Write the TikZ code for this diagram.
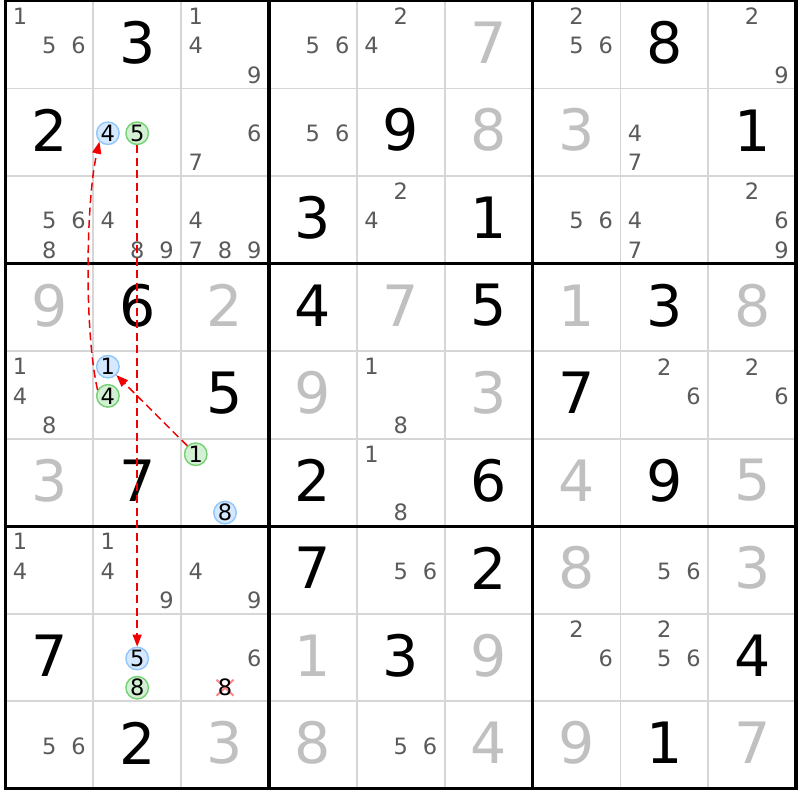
\documentclass[tikz,border=0pt]{standalone}
\usepackage{fontspec}
\setmainfont{DejaVu Sans}
\usetikzlibrary{arrows.meta}
\definecolor{thincol}{RGB}{214,214,214}
\definecolor{candc}{RGB}{90,90,90}
\definecolor{solvedc}{RGB}{192,192,192}
\definecolor{bfill}{RGB}{212,232,255}
\definecolor{bdraw}{RGB}{145,198,250}
\definecolor{gfill}{RGB}{212,240,212}
\definecolor{gdraw}{RGB}{115,208,115}
\definecolor{xcol}{RGB}{255,135,135}
\definecolor{linkred}{RGB}{240,0,0}
\def\GX{5.4}\def\GY{0.9}\def\GW{87.85}\def\GH{87.55}
\newcommand\cnode[5]{% style, name, row, col, digit
  \node[#1] (#2) at ({\GX+(#4-1)*\GW+(mod(#5-1,3)+0.5)*\GW/3},{\GY+(#3-1)*\GH+(floor((#5-1)/3)+0.5)*\GH/3+1}) {#5};}
\begin{document}
\begin{tikzpicture}[x=1pt,y=-1pt,
  given/.style={inner sep=0pt, font=\fontsize{57}{60}\selectfont, text=black},
  solved/.style={given, text=solvedc},
  cand/.style={inner sep=0pt, font=\fontsize{22.5}{24}\selectfont, text=candc},
  bluec/.style={circle, inner sep=0pt, minimum size=22.5pt, draw=bdraw, fill=bfill, line width=1.4pt, font=\fontsize{22.5}{24}\selectfont, text=black},
  greenc/.style={bluec, draw=gdraw, fill=gfill},
  plainc/.style={inner sep=0pt, font=\fontsize{22.5}{24}\selectfont, text=black},
  link/.style={draw=linkred, line width=1.5pt, dash pattern=on 8pt off 4.5pt, -{Triangle[length=12pt,width=9pt]}},
  thinline/.style={draw=thincol, line width=1.7pt},
  thickline/.style={draw=black, line width=3.2pt}]
\useasboundingbox (0,0) rectangle (800,800);
\fill[white] (0,0) rectangle (800,800);
% grid
\foreach \i in {1,2,4,5,7,8} {
  \draw[thinline] ({\GX+\i*\GW},\GY) -- ({\GX+\i*\GW},{\GY+9*\GH});
  \draw[thinline] (\GX,{\GY+\i*\GH}) -- ({\GX+9*\GW},{\GY+\i*\GH});
}
\foreach \i in {3,6} {
  \draw[thickline] ({\GX+\i*\GW},\GY) -- ({\GX+\i*\GW},{\GY+9*\GH});
  \draw[thickline] (\GX,{\GY+\i*\GH}) -- ({\GX+9*\GW},{\GY+\i*\GH});
}
\draw[thickline] (\GX,\GY) rectangle ({\GX+9*\GW},{\GY+9*\GH});
% given digits
\foreach \rr/\cc/\vv in {1/2/3,1/8/8,2/1/2,2/5/9,2/9/1,3/4/3,3/6/1,4/2/6,4/4/4,4/6/5,4/8/3,5/3/5,5/7/7,6/2/7,6/4/2,6/6/6,6/8/9,7/4/7,7/6/2,8/1/7,8/5/3,8/9/4,9/2/2,9/8/1}
  \node[given] (v\rr\cc) at ({\GX+(\cc-0.5)*\GW},{\GY+(\rr-0.5)*\GH-2}) {\vv};
% solved digits
\foreach \rr/\cc/\vv in {1/6/7,2/6/8,2/7/3,4/1/9,4/3/2,4/5/7,4/7/1,4/9/8,5/4/9,5/6/3,6/1/3,6/7/4,6/9/5,7/7/8,7/9/3,8/4/1,8/6/9,9/3/3,9/4/8,9/6/4,9/7/9,9/9/7}
  \node[solved] (v\rr\cc) at ({\GX+(\cc-0.5)*\GW},{\GY+(\rr-0.5)*\GH-2}) {\vv};
% candidates
\foreach \rr/\cc/\kk in {1/1/1,1/1/5,1/1/6, 1/3/1,1/3/4,1/3/9, 1/4/5,1/4/6, 1/5/2,1/5/4, 1/7/2,1/7/5,1/7/6, 1/9/2,1/9/9,
  2/3/6,2/3/7, 2/4/5,2/4/6, 2/8/4,2/8/7,
  3/1/5,3/1/6,3/1/8, 3/2/4,3/2/8,3/2/9, 3/3/4,3/3/7,3/3/8,3/3/9, 3/5/2,3/5/4, 3/7/5,3/7/6, 3/8/4,3/8/7, 3/9/2,3/9/6,3/9/9,
  5/1/1,5/1/4,5/1/8, 5/5/1,5/5/8, 5/8/2,5/8/6, 5/9/2,5/9/6,
  6/5/1,6/5/8,
  7/1/1,7/1/4, 7/2/1,7/2/4,7/2/9, 7/3/4,7/3/9, 7/5/5,7/5/6, 7/8/5,7/8/6,
  8/3/6, 8/7/2,8/7/6, 8/8/2,8/8/5,8/8/6,
  9/1/5,9/1/6, 9/5/5,9/5/6}
  {\cnode{cand}{c\rr\cc\kk}{\rr}{\cc}{\kk}}
% eliminated candidate
\coordinate (xc) at ({\GX+2.5*\GW},{\GY+7*\GH+2.5*\GH/3+1});
\draw[xcol, line width=2pt] ([shift={(-8.5,-8)}]xc) -- ([shift={(8.5,8)}]xc);
\draw[xcol, line width=2pt] ([shift={(-8.5,8)}]xc) -- ([shift={(8.5,-8)}]xc);
\node[plainc] (x838) at (xc) {8};
% highlighted candidates
\cnode{bluec}{b224}{2}{2}{4}
\cnode{greenc}{g225}{2}{2}{5}
\cnode{bluec}{b251}{5}{2}{1}
\cnode{greenc}{g254}{5}{2}{4}
\cnode{greenc}{g631}{6}{3}{1}
\cnode{bluec}{b638}{6}{3}{8}
\cnode{bluec}{b825}{8}{2}{5}
\cnode{greenc}{g828}{8}{2}{8}
% links
\draw[link] (g225) -- (b825);
\draw[link] (g631) -- (b251);
\draw[link] (g254.150) .. controls (84,330) and (86,200) .. (b224.225);
\end{tikzpicture}
\end{document}
